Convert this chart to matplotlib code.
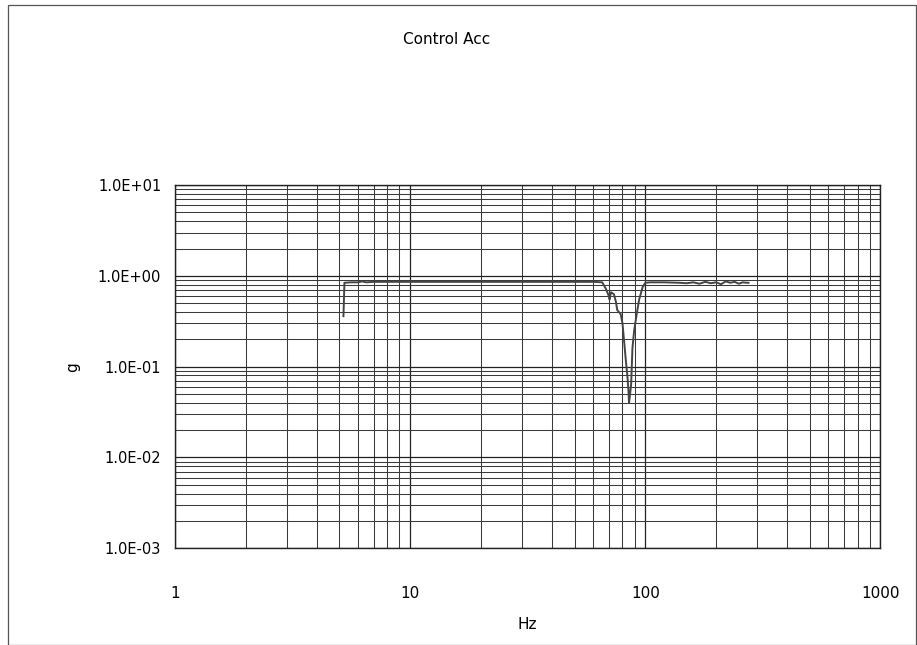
import matplotlib
matplotlib.use("Agg")
import matplotlib.pyplot as plt
from matplotlib.ticker import FixedLocator, LogLocator, NullFormatter
from matplotlib.patches import Rectangle

# data
freq_hz = [5.2, 5.25, 5.6, 6.0, 6.25, 6.5, 7, 8, 10, 15, 20, 30, 40, 50, 60,
           65.6, 68, 70, 70.5, 71.5, 73.5, 75, 76, 78.6, 80, 81.3, 82.6, 83.9,
           84.8, 85.3, 86.2, 87.1, 88.2, 89.7, 91.8, 94.2, 97.4, 100, 105,
           120, 140, 150, 160, 170, 180, 190, 200, 210, 220, 230, 240, 250,
           260, 270, 275]
accel_g = [0.36, 0.84, 0.85, 0.85, 0.87, 0.85, 0.86, 0.86, 0.86, 0.86, 0.86,
           0.86, 0.86, 0.86, 0.86,
           0.85, 0.72, 0.60, 0.55, 0.66, 0.63, 0.52, 0.42, 0.38, 0.30, 0.19,
           0.12, 0.08, 0.055, 0.040, 0.05, 0.065, 0.16, 0.25, 0.37, 0.55,
           0.75, 0.84, 0.85,
           0.85, 0.84, 0.83, 0.85, 0.82, 0.86, 0.83, 0.85, 0.81, 0.87, 0.84,
           0.86, 0.82, 0.85, 0.84, 0.84]

x_ticks = [1, 10, 100, 1000]
x_labels = ["1", "10", "100", "1000"]
y_ticks = [1e-3, 1e-2, 1e-1, 1e0, 1e1]
y_labels = ["1.0E-03", "1.0E-02", "1.0E-01", "1.0E+00", "1.0E+01"]

fig = plt.figure(figsize=(9.17, 6.45), dpi=100)
ax = fig.add_axes([0.191, 0.150, 0.769, 0.563])

# outer chart frame
fig.patches.append(Rectangle((0.009, 0.0), 0.99, 0.993, transform=fig.transFigure,
                             fill=False, edgecolor="#555555", linewidth=0.9))

ax.plot(freq_hz, accel_g, color="#444444", linewidth=1.4, zorder=3)

ax.set_xscale("log")
ax.set_yscale("log")
ax.set_xlim(1, 1000)
ax.set_ylim(1e-3, 1e1)

ax.xaxis.set_major_locator(FixedLocator(x_ticks))
ax.set_xticklabels(x_labels)
ax.yaxis.set_major_locator(FixedLocator(y_ticks))
ax.set_yticklabels(y_labels)
ax.xaxis.set_minor_locator(LogLocator(base=10, subs=range(2, 10)))
ax.yaxis.set_minor_locator(LogLocator(base=10, subs=range(2, 10)))
ax.xaxis.set_minor_formatter(NullFormatter())
ax.yaxis.set_minor_formatter(NullFormatter())

ax.grid(True, which="major", color="#222222", linewidth=0.9)
ax.grid(True, which="minor", color="#3a3a3a", linewidth=0.75)
ax.set_axisbelow(True)

ax.tick_params(which="both", length=0)
ax.tick_params(axis="x", pad=27, labelsize=11)
ax.tick_params(axis="y", pad=10, labelsize=10.5)

for s in ax.spines.values():
    s.set_color("#222222")
    s.set_linewidth(1.0)

ax.set_xlabel("Hz", fontsize=11, labelpad=12)
ax.set_ylabel("g", fontsize=11)
ax.yaxis.set_label_coords(-0.135, 0.5)
fig.text(0.487, 0.938, "Control Acc", ha="center", va="center", fontsize=11)

fig.savefig("out.png", dpi=100)
